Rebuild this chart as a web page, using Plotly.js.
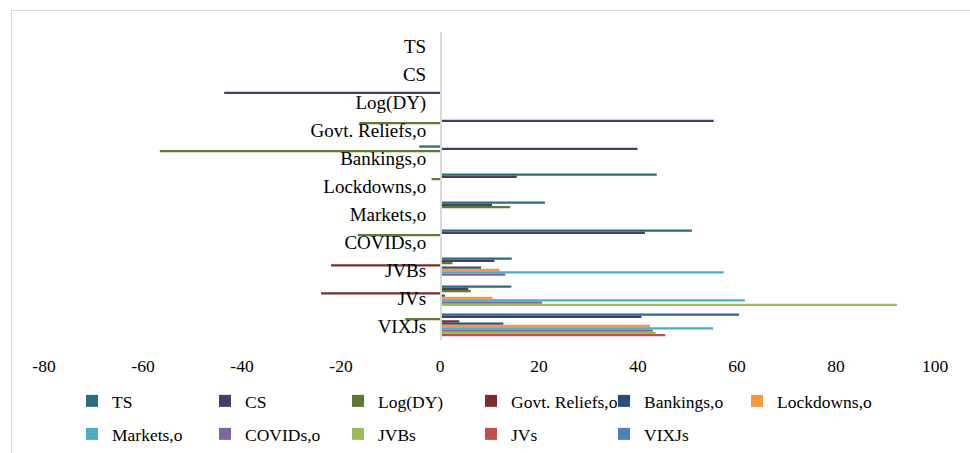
<!DOCTYPE html>
<html>
<head>
<meta charset="utf-8">
<script src="https://cdn.plot.ly/plotly-3.0.1.min.js"></script>
<style>
  html, body { margin: 0; padding: 0; background: #fff; }
  #wrap { position: relative; width: 970px; height: 453px; }
  #chart { position: absolute; left: 0; top: 0; width: 970px; height: 453px; }
  #frame { position: absolute; left: 11px; top: 10px; width: 959px; height: 443px;
           border-left: 1.5px solid #D9D9D9; border-top: 1.5px solid #D9D9D9; pointer-events: none; box-sizing: border-box; }
</style>
</head>
<body>
<div id="wrap"><div id="chart"></div><div id="frame"></div></div>
<script>
// Categories (top to bottom)
const categories = ["TS", "CS", "Log(DY)", "Govt. Reliefs,o", "Bankings,o", "Lockdowns,o",
                    "Markets,o", "COVIDs,o", "JVBs", "JVs", "VIXJs"];

// Series names
const seriesNames = ["TS", "CS", "Log(DY)", "Govt. Reliefs,o", "Bankings,o", "Lockdowns,o",
                     "Markets,o", "COVIDs,o", "JVBs", "JVs", "VIXJs"];

// Series values, one per category (same order as categories)
const vTS        = [null, 0, 0, 0, -4.2, 43.8, 21.2, 50.9, 14.5, 14.4, 60.4];
const vCS        = [null, null, -43.6, 55.3, 39.9, 15.5, 10.5, 41.4, 11.0, 5.7, 40.7];
const vLogDY     = [null, null, null, -16.3, -56.6, -1.7, 14.2, -16.6, 2.5, 6.2, -7.0];
const vGovt      = [null, null, null, null, 0, 0, 0, 0, -22.0, -24.0, 3.9];
const vBankings  = [null, null, null, null, null, 0, 0, 0, 8.3, 1.0, 12.8];
const vLockdowns = [null, null, null, null, null, null, 0, 0, 12.0, 10.6, 42.4];
const vMarkets   = [null, null, null, null, null, null, null, 0, 57.3, 61.6, 55.2];
const vCOVIDs    = [null, null, null, null, null, null, null, null, 13.2, 20.6, 43.0];
const vJVBs      = [null, null, null, null, null, null, null, null, null, 92.3, 43.6];
const vJVs       = [null, null, null, null, null, null, null, null, null, null, 45.5];
const vVIXJs     = [null, null, null, null, null, null, null, null, null, null, null];

const xTicks = [-80, -60, -40, -20, 0, 20, 40, 60, 80, 100];

const allValues = [vTS, vCS, vLogDY, vGovt, vBankings, vLockdowns, vMarkets, vCOVIDs, vJVBs, vJVs, vVIXJs];
const colors = ["#2B6D7E", "#4A3C64", "#5F7A32", "#7B2C2B", "#2C4D77", "#F79646",
                "#4BACC6", "#8064A2", "#9BBB59", "#C0504D", "#4F81BD"];

const font = "Liberation Serif, Times New Roman, serif";

function legendFor(i) {
  if (i < 5) return "legend";
  if (i === 5) return "legend3";
  return "legend2";
}

const traces = seriesNames.map((name, i) => ({
  type: "bar",
  orientation: "h",
  name: name,
  y: categories,
  x: allValues[i],
  marker: { color: colors[i], line: { width: 0 } },
  legend: legendFor(i),
  hoverinfo: "x+y+name"
}));

const legendCommon = {
  orientation: "h",
  xanchor: "left",
  yanchor: "top",
  font: { family: font, size: 17.5, color: "#000" },
  entrywidth: 88,
  entrywidthmode: "pixels",
  itemwidth: 30,
  bgcolor: "rgba(0,0,0,0)",
  traceorder: "normal"
};

const row1Y = (340 - 383) / 308;
const row2Y = (340 - 416) / 308;

const layout = {
  width: 970,
  height: 453,
  margin: { l: 44, r: 35, t: 32, b: 113, autoexpand: false },
  paper_bgcolor: "#fff",
  plot_bgcolor: "#fff",
  barmode: "group",
  bargap: 0.1,
  bargroupgap: 0,
  showlegend: true,
  font: { family: font, size: 17, color: "#000" },
  xaxis: {
    range: [-80, 100],
    tickvals: xTicks,
    ticktext: xTicks.map(String),
    showgrid: false,
    zeroline: false,
    showline: false,
    ticks: "",
    ticklabelstandoff: 13,
    tickfont: { family: font, size: 17.5, color: "#000" },
    fixedrange: true
  },
  yaxis: {
    type: "category",
    categoryorder: "array",
    categoryarray: categories,
    autorange: "reversed",
    anchor: "free",
    position: 80 / 180,
    showline: true,
    linecolor: "#D9D9D9",
    linewidth: 1.5,
    showgrid: false,
    zeroline: false,
    ticks: "",
    ticklabelstandoff: 10,
    tickfont: { family: font, size: 19, color: "#000" },
    fixedrange: true
  },
  legend: Object.assign({}, legendCommon, { x: (72 - 44) / 891, y: row1Y }),
  legend2: Object.assign({}, legendCommon, { x: (72 - 44) / 891, y: row2Y }),
  legend3: Object.assign({}, legendCommon, { x: (72 + 5 * 133 - 44) / 891, y: row1Y, entrywidth: 0 })
};

Plotly.newPlot("chart", traces, layout, { displayModeBar: false, staticPlot: true });
</script>
</body>
</html>
